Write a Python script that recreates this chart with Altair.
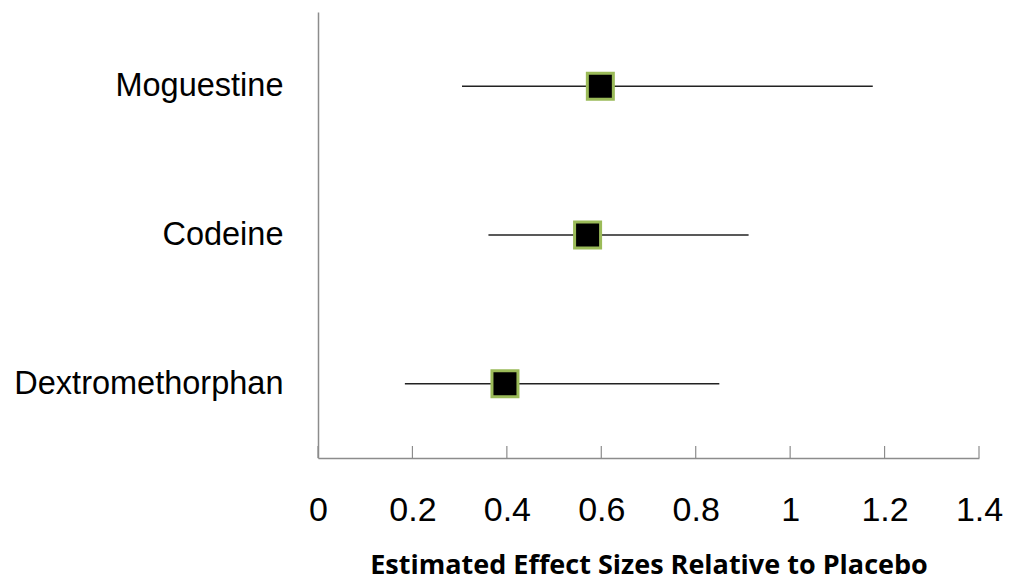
import altair as alt
import pandas as pd

drugs = ["Moguestine", "Codeine", "Dextromethorphan"]
estimates = [0.598, 0.571, 0.396]
ci_low = [0.305, 0.361, 0.184]
ci_high = [1.175, 0.912, 0.850]
tick_values = [0, 0.2, 0.4, 0.6, 0.8, 1, 1.2, 1.4]

df = pd.DataFrame({"drug": drugs, "est": estimates, "lo": ci_low, "hi": ci_high})
ticks_df = pd.DataFrame({"t": tick_values})

W, H = 661, 446
AXIS_GREY = "#8c8c8c"

xscale = alt.Scale(domain=[0, 1.4], nice=False, zero=False)
yscale = alt.Scale(domain=drugs)

x_axis = alt.Axis(
    values=tick_values,
    labelExpr="'' + datum.value",
    tickSize=0,
    labelPadding=35,
    labelFlush=False,
    labelOverlap=False,
    labelFont="Liberation Sans",
    labelFontSize=34,
    labelColor="#000000",
    domainColor=AXIS_GREY,
    domainWidth=1.5,
    grid=False,
    title="Estimated Effect Sizes Relative to Placebo",
    titleFont="Open Sans",
    titleFontWeight="bold",
    titleFontSize=27,
    titleColor="#000000",
    titlePadding=25,
)
y_axis = alt.Axis(
    tickSize=0,
    labelPadding=35,
    labelLimit=400,
    labelFont="Liberation Sans",
    labelFontSize=32.5,
    labelColor="#000000",
    domainColor=AXIS_GREY,
    domainWidth=1.5,
    grid=False,
    title=None,
)

base = alt.Chart(df)

bars = base.mark_rule(color="#222222", strokeWidth=1.5).encode(
    x=alt.X("lo:Q", scale=xscale, axis=x_axis),
    x2="hi:Q",
    y=alt.Y("drug:N", scale=yscale, axis=y_axis, sort=drugs),
)

pts = base.mark_point(
    shape="square", size=676, filled=True, fill="#000000",
    stroke="#9BBB59", strokeWidth=3, opacity=1,
).encode(
    x=alt.X("est:Q", scale=xscale),
    y=alt.Y("drug:N", scale=yscale, sort=drugs),
)

tick_marks = alt.Chart(ticks_df).mark_rule(color=AXIS_GREY, strokeWidth=1.2).encode(
    x=alt.X("t:Q", scale=xscale),
    y=alt.value(H - 12),
    y2=alt.value(H),
)

chart = (
    alt.layer(bars, tick_marks, pts)
    .properties(
        width=W,
        height=H,
        autosize=alt.AutoSizeParams(type="none"),
        padding={"left": 310, "top": 4, "right": 24, "bottom": 128},
        background="white",
    )
    .configure_view(stroke=None)
)

chart.save("out.html", embed_options={"renderer": "svg", "actions": False})
